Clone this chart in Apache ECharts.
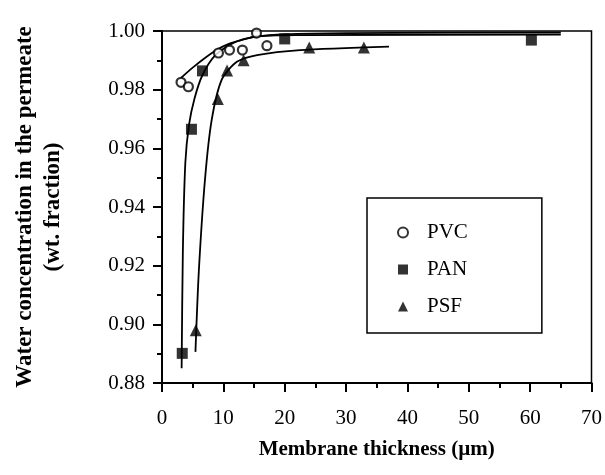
<!DOCTYPE html>
<html>
<head>
<meta charset="utf-8">
<script src="https://cdn.jsdelivr.net/npm/echarts@6/dist/echarts.min.js"></script>
<style>
  html, body { margin: 0; padding: 0; background: #fff; }
  #main { width: 605px; height: 475px; }
</style>
</head>
<body>
<div id="main"></div>
<script>
// measured points
var pvcPts = [[3.1, 0.9825], [4.3, 0.981], [9.2, 0.9925], [11.0, 0.9935], [13.1, 0.9935], [15.4, 0.9993], [17.1, 0.995]];
var panPts = [[3.3, 0.8901], [4.8, 0.9665], [6.6, 0.9864], [20.0, 0.9973], [60.2, 0.9969]];
var psfPts = [[5.5, 0.898], [9.1, 0.9768], [10.6, 0.9865], [13.3, 0.990], [24.0, 0.9944], [32.9, 0.9944]];

// fitted curves as drawn
var pvcFit = [[3.1, 0.984], [5, 0.9875], [7, 0.9908], [9, 0.9937], [11, 0.9957], [13, 0.997], [15, 0.998], [20, 0.9989], [30, 0.9993], [65, 0.9995]];
var panFit = [[3.2, 0.885], [3.4, 0.925], [3.8, 0.955], [4.4, 0.968], [5.3, 0.977], [6.6, 0.985], [8.7, 0.9918], [11.9, 0.9962], [16, 0.9983], [22.5, 0.9986], [65, 0.9988]];
var psfFit = [[5.45, 0.8906], [6.0, 0.918], [7.0, 0.9492], [8.1, 0.9697], [9.75, 0.9835], [12.2, 0.9895], [15.5, 0.9918], [22.5, 0.9935], [37, 0.9947]];

var xTicks = [0, 10, 20, 30, 40, 50, 60, 70];
var yTicks = ['0.88', '0.90', '0.92', '0.94', '0.96', '0.98', '1.00'];

var serif = 'Liberation Serif';
var chart = echarts.init(document.getElementById('main'));

function fit(name, data) {
  return {
    name: name, type: 'line', data: data, smooth: 0.25,
    showSymbol: false, symbol: 'none', silent: true,
    lineStyle: { color: '#000', width: 1.8 }, z: 2
  };
}

var option = {
  animation: false,
  backgroundColor: '#fff',
  grid: { left: 162, right: 13, top: 31, bottom: 92, show: true, borderColor: '#000', borderWidth: 1.5 },
  legend: {
    data: ['PVC', 'PAN', 'PSF'],
    orient: 'vertical', left: 367, top: 198,
    padding: [24, 74, 16, 30],
    borderColor: '#000', borderWidth: 1.5,
    itemWidth: 10, itemHeight: 10, itemGap: 16,
    textStyle: { fontFamily: serif, fontSize: 21, color: '#000', lineHeight: 21, padding: [0, 0, 0, 14] }
  },
  xAxis: {
    type: 'value', min: 0, max: 70, interval: 10,
    name: 'Membrane thickness (\u00b5m)', nameLocation: 'middle', nameGap: 56,
    nameTextStyle: { fontFamily: serif, fontSize: 21, fontWeight: 'bold', color: '#000' },
    axisLine: { show: true, lineStyle: { color: '#000', width: 2 } },
    axisTick: { show: true, inside: false, length: 9, lineStyle: { color: '#000', width: 2 } },
    minorTick: { show: true, splitNumber: 2, length: 5, lineStyle: { color: '#000', width: 2 } },
    splitLine: { show: false },
    axisLabel: {
      fontFamily: serif, fontSize: 21, color: '#000', margin: 25,
      formatter: function (v) { return xTicks.indexOf(v) >= 0 ? String(v) : ''; }
    }
  },
  yAxis: {
    type: 'value', min: 0.88, max: 1.0, interval: 0.02,
    name: 'Water concentration in the permeate\n(wt. fraction)', nameLocation: 'middle', nameGap: 95,
    nameRotate: 90,
    nameTextStyle: { fontFamily: serif, fontSize: 23, fontWeight: 'bold', color: '#000', lineHeight: 28 },
    axisLine: { show: true, lineStyle: { color: '#000', width: 2 } },
    axisTick: { show: true, inside: false, length: 9, lineStyle: { color: '#000', width: 2 } },
    minorTick: { show: true, splitNumber: 2, length: 5, lineStyle: { color: '#000', width: 2 } },
    splitLine: { show: false },
    axisLabel: {
      fontFamily: serif, fontSize: 21, color: '#000', margin: 17,
      formatter: function (v) { return yTicks[Math.round((v - 0.88) / 0.02)]; }
    }
  },
  series: [
    fit('PVC fit', pvcFit),
    fit('PAN fit', panFit),
    fit('PSF fit', psfFit),
    {
      name: 'PVC', type: 'scatter', data: pvcPts, symbol: 'circle', symbolSize: 9,
      itemStyle: { color: '#fff', borderColor: '#000', borderWidth: 2.2 }, z: 3
    },
    {
      name: 'PAN', type: 'scatter', data: panPts, symbol: 'rect', symbolSize: 11,
      itemStyle: { color: '#000' }, z: 3
    },
    {
      name: 'PSF', type: 'scatter', data: psfPts, symbol: 'triangle', symbolSize: 12,
      itemStyle: { color: '#000' }, z: 3
    }
  ]
};

chart.setOption(option);
</script>
</body>
</html>
